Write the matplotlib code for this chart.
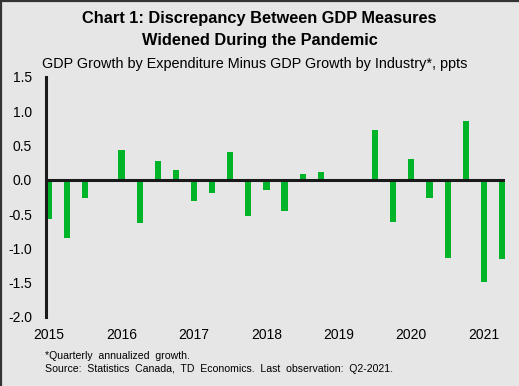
import matplotlib
matplotlib.use("Agg")
import matplotlib.pyplot as plt
from matplotlib.lines import Line2D
import numpy as np

plt.rcParams['font.family'] = ['Liberation Sans', 'DejaVu Sans']

quarters = ["2015Q1","2015Q2","2015Q3","2015Q4","2016Q1","2016Q2","2016Q3","2016Q4",
            "2017Q1","2017Q2","2017Q3","2017Q4","2018Q1","2018Q2","2018Q3","2018Q4",
            "2019Q1","2019Q2","2019Q3","2019Q4","2020Q1","2020Q2","2020Q3","2020Q4",
            "2021Q1","2021Q2"]
values = [-0.57, -0.85, -0.27, -0.03, 0.43, -0.63, 0.28, 0.15,
          -0.31, -0.19, 0.40, -0.53, -0.15, -0.46, 0.08, 0.11,
          0.0, 0.0, 0.72, -0.62, 0.31, -0.27, -1.14, 0.86,
          -1.49, -1.16]
year_labels = ["2015", "2016", "2017", "2018", "2019", "2020", "2021"]
yticks = [1.5, 1.0, 0.5, 0.0, -0.5, -1.0, -1.5, -2.0]

bg = '#e6e6e6'
green = '#00b42a'

fig = plt.figure(figsize=(5.19, 3.86), dpi=100, facecolor=bg)
W, H = 519, 386
ax = fig.add_axes([46/W, 1-317/H, (505-46)/W, (317-77)/H], facecolor=bg)

x = np.arange(len(values))
w = 0.34
ax.bar(x, values, width=w, color=green, zorder=2)
ax.set_xlim(-w/2, len(values)-1+w/2)
ax.set_ylim(-2.0, 1.5)
ax.axhline(0, color='#1a1a1a', lw=2.2, zorder=3)

for s in ['top', 'right', 'bottom']:
    ax.spines[s].set_visible(False)
ax.spines['left'].set_color('#1a1a1a')
ax.spines['left'].set_linewidth(2.2)

ax.set_yticks(yticks)
ax.set_yticklabels([f"{v:.1f}" for v in yticks])
ax.set_xticks(x[::4])
ax.set_xticklabels(year_labels)
ax.tick_params(axis='both', length=0, labelsize=10, colors='black')
ax.tick_params(axis='y', pad=10)
ax.tick_params(axis='x', pad=8)

fig.text(0.5, 1-19/H, "Chart 1: Discrepancy Between GDP Measures", ha='center', va='center',
         fontsize=11.8, fontweight='bold')
fig.text(0.5, 1-40/H, "Widened During the Pandemic", ha='center', va='center',
         fontsize=11.8, fontweight='bold')
fig.text(42/W, 1-64/H, "GDP Growth by Expenditure Minus GDP Growth by Industry*, ppts",
         ha='left', va='center', fontsize=10.4)
fig.text(45/W, 1-356/H, "*Quarterly  annualized  growth.", ha='left', va='center', fontsize=7.6)
fig.text(45/W, 1-369/H, "Source:  Statistics  Canada,  TD  Economics.  Last  observation:  Q2-2021.",
         ha='left', va='center', fontsize=7.6)

fig.add_artist(Line2D([0, 1], [1-0.8/H, 1-0.8/H], transform=fig.transFigure, color='#333333', lw=1.6))
fig.add_artist(Line2D([0.8/W, 0.8/W], [0, 1], transform=fig.transFigure, color='#333333', lw=1.6))

fig.savefig("out.png", dpi=100, facecolor=bg)
